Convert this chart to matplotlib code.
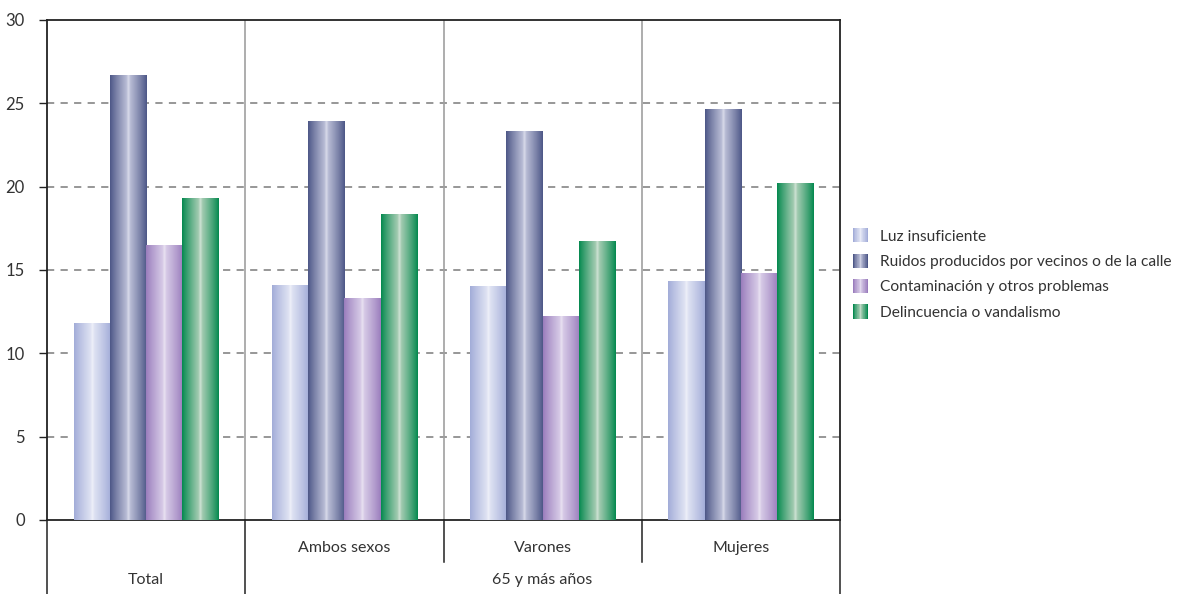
import numpy as np
import matplotlib
matplotlib.use("Agg")
import matplotlib.pyplot as plt
from matplotlib.colors import to_rgb
from matplotlib.patches import Rectangle
from matplotlib.legend_handler import HandlerBase
import matplotlib.transforms as mtransforms

plt.rcParams['font.family'] = ['Lato', 'DejaVu Sans']

groups = ["Total", "Ambos sexos", "Varones", "Mujeres"]
outer_labels = ["Total", "65 y más años"]
series = ["Luz insuficiente",
          "Ruidos producidos por vecinos o de la calle",
          "Contaminación y otros problemas",
          "Delincuencia o vandalismo"]
luz = [11.8, 14.1, 14.0, 14.3]
ruidos = [26.7, 23.9, 23.3, 24.6]
contam = [16.5, 13.3, 12.2, 14.8]
delinc = [19.3, 18.3, 16.7, 20.2]
values = [luz, ruidos, contam, delinc]
yticks = [0, 5, 10, 15, 20, 25, 30]

edge_cols = ["#a2acd8", "#4d5787", "#9a7dbd", "#05894f"]
center_cols = ["#e4e7f5", "#c3c6dd", "#dcd1ea", "#b3d2bb"]

def gradient_colors(i, n=64):
    e = np.array(to_rgb(edge_cols[i]))
    c = np.array(to_rgb(center_cols[i]))
    t = np.linspace(0, 1, n)
    d = np.abs(2 * t - 1)
    m = (1 - d) ** 0.9
    cols = e[None, :] * (1 - m[:, None]) + c[None, :] * m[:, None]
    hl = np.exp(-((t - 0.5) / 0.03) ** 2) * 0.35
    cols = cols + (1 - cols) * hl[:, None]
    return np.clip(cols, 0, 1)

fig = plt.figure(figsize=(11.87, 5.94), dpi=100)
ax = fig.add_axes([47/1187, 74/594, (840-47)/1187, 500/594])

x = np.arange(len(groups))
w = 0.183
offsets = (np.arange(4) - 1.5) * w
for i, vals in enumerate(values):
    bars = ax.bar(x + offsets[i], vals, width=w, color='none', edgecolor='none', zorder=3)
    cols = gradient_colors(i)
    for b in bars:
        x0, wdt, h = b.get_x(), b.get_width(), b.get_height()
        ax.imshow(cols[None, :, :], extent=[x0, x0 + wdt, 0, h], aspect='auto',
                  zorder=3, interpolation='bilinear')

ax.set_xlim(-0.5, len(groups) - 0.5)
ax.set_ylim(0, 30)
ax.set_yticks(yticks)
ax.set_yticklabels([str(v) for v in yticks], fontsize=12, color='#333333')
ax.set_xticks([])
ax.tick_params(axis='y', length=6, width=1, color='#222222', pad=10)

for yv in yticks[1:-1]:
    ax.axhline(yv, color='#8f8f8f', ls=(0, (4, 3.5)), lw=1.3, zorder=1)
for xb in [0.5, 1.5, 2.5]:
    ax.axvline(xb, color='#a0a0a0', lw=1.2, zorder=1)

for s in ['left', 'bottom', 'top', 'right']:
    ax.spines[s].set_color('#222222')
    ax.spines[s].set_linewidth(1.3)

trans = mtransforms.blended_transform_factory(ax.transData, fig.transFigure)
bottom_fig = 74 / 594
for xb, ybot in [(-0.5, 0.0), (0.5, 0.0), (3.5, 0.0), (1.5, (594-562)/594), (2.5, (594-562)/594)]:
    ax.plot([xb, xb], [bottom_fig, ybot], transform=trans, color='#222222', lw=1.1, clip_on=False)
row1_y = (594 - 548) / 594
row2_y = (594 - 580) / 594
for gi in range(1, 4):
    ax.text(x[gi], row1_y, groups[gi], transform=trans, ha='center', va='center',
            fontsize=11.5, color='#333333')
ax.text(x[0], row2_y, outer_labels[0], transform=trans, ha='center', va='center',
        fontsize=11.5, color='#333333')
ax.text(np.mean(x[1:]), row2_y, outer_labels[1], transform=trans, ha='center', va='center',
        fontsize=11.5, color='#333333')

class GradHandler(HandlerBase):
    def __init__(self, idx):
        super().__init__()
        self.idx = idx
    def create_artists(self, legend, orig_handle, xdescent, ydescent, width, height, fontsize, trans):
        cols = gradient_colors(self.idx, n=24)
        arts = []
        n = len(cols)
        for k, c in enumerate(cols):
            r = Rectangle((-xdescent + width * k / n, -ydescent), width / n * 1.05, height,
                          facecolor=c, edgecolor='none', transform=trans)
            arts.append(r)
        return arts

handles = [Rectangle((0, 0), 1, 1) for _ in series]
leg = fig.legend(handles, series, loc='center left', bbox_to_anchor=(839/1187, 1 - 274/594),
                 frameon=False, fontsize=11.2, handlelength=0.95, handleheight=1.05,
                 handletextpad=0.8, labelspacing=0.64,
                 handler_map={h: GradHandler(i) for i, h in enumerate(handles)})
for t in leg.get_texts():
    t.set_color('#333333')

fig.savefig("out.png", dpi=100)
